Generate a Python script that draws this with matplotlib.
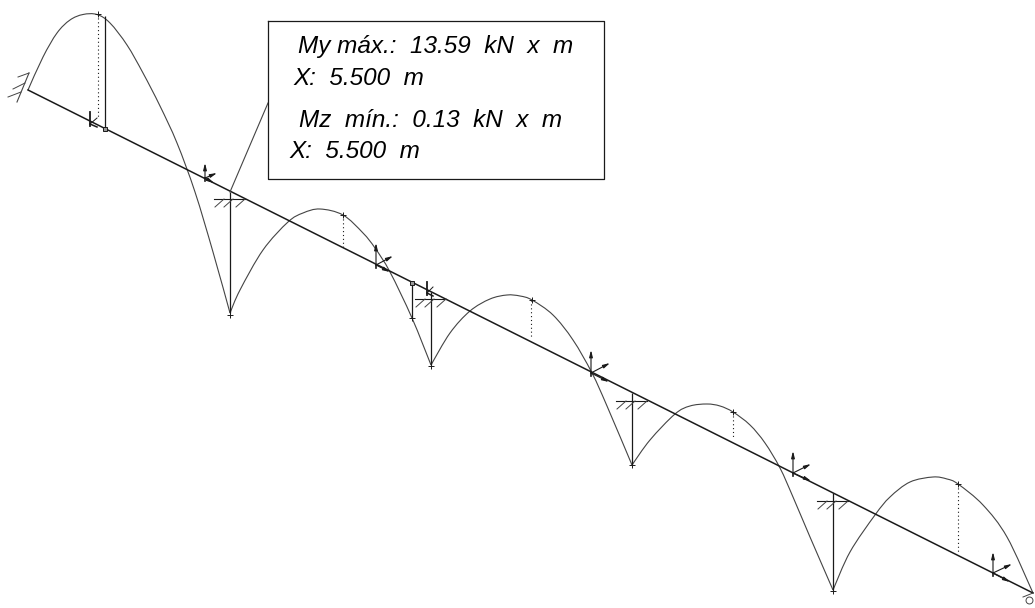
#!/usr/bin/env python3
"""
Bending moment diagram of a continuous inclined beam
"""

import matplotlib
matplotlib.use("Agg")
import matplotlib.pyplot as plt
from matplotlib.path import Path
from matplotlib.patches import PathPatch

# beam axis (picture coordinates)
beam_x = [28, 1033]
beam_y = [90, 593]

# moment curve, one list per span
span1_x = [28, 43, 57, 70, 83, 97, 110, 127, 143, 160, 177, 195, 213, 230]
span1_y = [90, 57, 33, 20, 14.5, 14.5, 23, 45, 73, 106, 143, 192, 252, 313]
span2_x = [230, 240, 263, 288, 303, 320, 343, 363, 375, 390, 412, 431]
span2_y = [313, 290, 250, 222, 213, 209, 215, 233, 248, 272, 318, 365]
span3_x = [431, 450, 470, 490, 507, 520, 532, 553, 573, 592, 607, 632]
span3_y = [365, 333, 311, 299, 295, 296, 300, 315, 340, 373, 406, 465]
span4_x = [632, 650, 675, 690, 707, 720, 733, 750, 765, 780, 793, 810, 833]
span4_y = [465, 440, 414, 406, 404, 406, 412, 425, 443, 468, 497, 537, 590]
span5_x = [833, 850, 875, 890, 910, 933, 947, 958, 983, 1007, 1033]
span5_y = [590, 552, 515, 497, 482, 477, 479, 484, 505, 537, 593]

# vertical ordinates: x, y top, y bottom
solid_x = [105, 230, 412, 431, 632, 833]
solid_top = [16, 192, 283, 292, 393, 493]
solid_bottom = [129, 313, 318, 365, 465, 590]
dotted_x = [98, 343, 531, 733, 958]
dotted_top = [14, 215, 300, 412, 484]
dotted_bottom = [118, 248, 338, 438, 553]

# small squares and crosses
square_x = [105, 412]
square_y = [129, 283]
cross_x = [98, 230, 343, 412, 431, 532, 632, 733, 833, 958]
cross_y = [14, 315, 215, 318, 366, 300, 465, 412, 591, 484]

# local axes: origin, vertical tip, diagonal tip, tip along beam
triad_x = [90, 205, 376, 427, 591, 793, 993]
triad_y = [124, 178, 265, 293, 373, 473, 573]
triad_up = [112, 163, 243, 282, 350, 451, 552]
triad_diag_x = [97, 217, 393, 433, 610, 811, 1012]
triad_diag_y = [118, 173, 256, 287, 363, 464, 564]
triad_along_x = [97, 214, 390, 433, 609, 811, 1010]
triad_along_y = [127, 183, 272, 296, 382, 481, 582]

# pinned supports
support_x = [230, 431, 632, 833]
support_y = [199, 299, 401, 501]

# leader and label box
leader_x = [230, 268]
leader_y = [192, 103]
box_x = [268, 604, 604, 268, 268]
box_y = [21, 21, 179, 179, 21]
label_text = ["My máx.:  13.59  kN  x  m", "X:  5.500  m", "Mz  mín.:  0.13  kN  x  m", "X:  5.500  m"]
label_x = [298, 293, 299, 289]
label_y = [53, 85, 127, 158]

dark = "#1a1a1a"
grey = "#444444"

fig = plt.figure(figsize=(10.35, 6.08), dpi=100)
ax = fig.add_axes([0, 0, 1, 1])
ax.set_xlim(0, 1035)
ax.set_ylim(608, 0)
ax.axis("off")


def smooth_path(xs, ys):
    pts = list(zip(xs, ys))
    verts = [pts[0]]
    codes = [Path.MOVETO]
    for i in range(len(pts) - 1):
        p0 = pts[max(i - 1, 0)]
        p1 = pts[i]
        p2 = pts[i + 1]
        p3 = pts[min(i + 2, len(pts) - 1)]
        c1 = (p1[0] + (p2[0] - p0[0]) / 6, p1[1] + (p2[1] - p0[1]) / 6)
        c2 = (p2[0] - (p3[0] - p1[0]) / 6, p2[1] - (p3[1] - p1[1]) / 6)
        verts += [c1, c2, p2]
        codes += [Path.CURVE4, Path.CURVE4, Path.CURVE4]
    return Path(verts, codes)


def arrow(x0, y0, x1, y1):
    ax.annotate("", xy=(x1, y1), xytext=(x0, y0),
                arrowprops=dict(arrowstyle="-|>,head_length=0.4,head_width=0.1",
                                color=dark, lw=0.8, shrinkA=0, shrinkB=0))


ax.plot(beam_x, beam_y, color=dark, lw=1.1)

for xs, ys in [(span1_x, span1_y), (span2_x, span2_y), (span3_x, span3_y),
               (span4_x, span4_y), (span5_x, span5_y)]:
    ax.add_patch(PathPatch(smooth_path(xs, ys), fill=False, edgecolor=grey, lw=0.8))

ax.vlines(solid_x, solid_top, solid_bottom, color=dark, lw=0.9)
ax.vlines(dotted_x, dotted_top, dotted_bottom, color=dark, lw=0.8, linestyles=(0, (1, 2.5)))

ax.plot(square_x, square_y, ls="", marker="s", ms=3.5, mfc="#999999", mec=dark, mew=0.7)
ax.plot(cross_x, cross_y, ls="", marker="+", ms=5, color=dark, mew=0.7)

# local axes at each section, the small ones have no visible heads
for i in range(len(triad_x)):
    x0, y0 = triad_x[i], triad_y[i]
    if y0 - triad_up[i] < 15:
        ax.plot([x0, x0], [y0 + 2, triad_up[i]], color=dark, lw=1.3)
        ax.plot([x0, triad_diag_x[i]], [y0, triad_diag_y[i]], color=dark, lw=0.7)
        ax.plot([x0, triad_along_x[i]], [y0, triad_along_y[i]], color=dark, lw=1.1)
    else:
        ax.plot([x0, x0], [y0 + 3, y0], color=dark, lw=1.2)
        arrow(x0, y0, x0, triad_up[i])
        arrow(x0, y0, triad_diag_x[i], triad_diag_y[i])
        arrow(x0, y0, triad_along_x[i], triad_along_y[i])

# supports, flat line with three slashes below
for sx, sy in zip(support_x, support_y):
    ax.plot([sx - 16, sx + 15], [sy, sy], color=dark, lw=0.8)
    for off in [-6, 3, 15]:
        ax.plot([sx + off, sx + off - 9], [sy, sy + 8], color=grey, lw=0.7)

# fixed support at the left end
ax.plot([29, 17], [73, 102], color=grey, lw=0.8)
ax.plot([29, 18], [73, 77], color=grey, lw=0.7)
ax.plot([25, 13], [83, 89], color=grey, lw=0.7)
ax.plot([21, 8], [92, 97], color=grey, lw=0.7)

# roller at the right end
ax.plot([1023, 1033], [597, 593], color=grey, lw=0.7)
ax.plot([1029], [600], ls="", marker="o", ms=5, mfc="white", mec=grey, mew=0.7)

ax.plot(leader_x, leader_y, color=grey, lw=0.8)
ax.plot(box_x, box_y, color=dark, lw=0.9)

for txt, tx, ty in zip(label_text, label_x, label_y):
    ax.text(tx, ty, txt, family="Liberation Sans", style="italic", fontsize=17.5,
            color="black", ha="left", va="baseline")

fig.savefig("out.png", dpi=100, facecolor="white")
